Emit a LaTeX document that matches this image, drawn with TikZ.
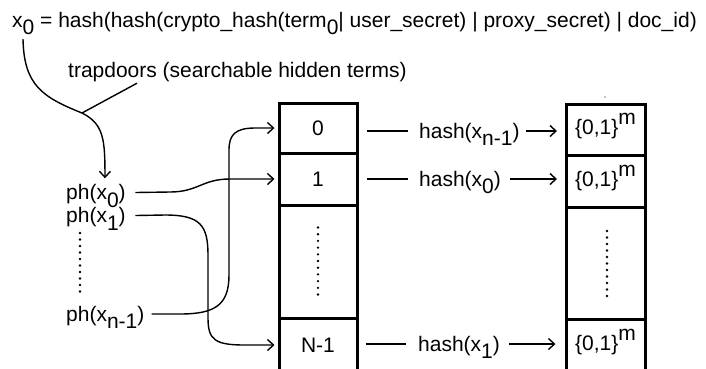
\documentclass[tikz,border=0pt]{standalone}
\usepackage{fontspec}
\setmainfont{Liberation Sans}
\usetikzlibrary{arrows.meta}
% full-size lowered subscripts and raised superscripts, as in the figure
\newcommand\dn[1]{\raisebox{-7.5pt}{#1}}
\newcommand\upm[1]{\raisebox{10pt}[0pt][0pt]{#1}}

\begin{document}
\begin{tikzpicture}[x=1pt,y=-1pt,
  every node/.style={font=\fontsize{21}{25}\selectfont, inner sep=0pt},
  txt/.style={anchor=base west, text height=15pt, text depth=1pt},
  cell/.style={draw, line width=3pt, minimum width=78pt},
  rcell/.style={draw, line width=3pt, minimum width=79pt},
  conn/.style={line width=1.4pt},
  arr/.style={conn, -{Straight Barb[length=6pt,width=11pt]}},
  dotmark/.style={fill=black}
]
\useasboundingbox (0,0) rectangle (706,368);
\clip (0,0) rectangle (706,368);

% heading formula and caption
\node[txt] (F) at (12,27) {x\dn{0} = hash(hash(crypto\_hash(term\dn{0}| user\_secret) | proxy\_secret) | doc\_id)};
\node[txt] (Tr) at (68,77) {trapdoors (searchable hidden terms)};

% trapdoor list
\node[txt] (P0) at (66,199.5) {ph(x\dn{0})};
\node[txt] (P1) at (66,222.5) {ph(x\dn{1})};
\node[txt] (PN) at (66,321) {ph(x\dn{n-1})};
\foreach \i in {0,...,9} \fill[dotmark] (80,233+6.5*\i) circle (1.3);

% index table
\node[cell, minimum height=50pt]  (L0) at (318,128)   {0};
\node[cell, minimum height=52pt]  (L1) at (318,179)   {1};
\node[cell, minimum height=113pt] (Ld) at (318,261.5) {};
\node[cell, minimum height=54pt]  (LN) at (318,345)   {N-1};
\foreach \i in {0,...,10} \fill[dotmark] ([yshift=34pt-6.7pt*\i]Ld.center) circle (1.3);

% value table
\node[rcell, minimum height=51pt]  (R0) at (605.5,129.5) {\{0,1\}\upm{m}};
\node[rcell, minimum height=52pt]  (R1) at (605.5,181)   {\{0,1\}\upm{m}};
\node[rcell, minimum height=112pt] (Rd) at (605.5,263)   {};
\node[rcell, minimum height=53pt]  (RN) at (605.5,345.5) {\{0,1\}\upm{m}};
\foreach \i in {0,...,10} \fill[dotmark] ([xshift=1.5pt,yshift=32pt-6.5pt*\i]Rd.center) circle (1.3);
\fill[black!45] (605,97) circle (0.8);

% hash labels between the tables
\node[txt] (H0) at (419,138) {hash(x\dn{n-1})};
\node[txt] (H1) at (419,186) {hash(x\dn{0})};
\node[txt] (HN) at (418,351) {hash(x\dn{1})};

\draw[conn, shorten <=8.5pt, shorten >=11pt] (L0.east |- H0.west) -- (H0.west);
\draw[conn, shorten <=8.5pt, shorten >=11pt] (L1.east |- H1.west) -- (H1.west);
\draw[conn, shorten <=7pt,   shorten >=12pt] (LN.east |- HN.west) -- (HN.west);
\draw[arr, shorten <=6pt, shorten >=7.5pt] (H0.east) -- (H0.east -| R0.west);
\draw[arr, shorten <=9pt, shorten >=7.5pt] (H1.east) -- (H1.east -| R1.west);
\draw[arr, shorten <=9pt, shorten >=9pt]   (HN.east) -- (HN.east -| RN.west);

% x0 derivation feeding the trapdoor list
\coordinate (j) at (82,113);
\draw[arr, shorten >=6pt] ([xshift=11pt,yshift=-11pt]F.south west)
  .. controls (24,85) and (42,97) .. (j)
  .. controls (104,124) and (105,140) .. ([xshift=9pt]P0.north);
\draw[conn] ([xshift=69pt,yshift=-5pt]Tr.south west) -- (j);

% trapdoors to table slots
\draw[arr, shorten >=3pt] ([xshift=9.5pt]P0.east) -- (170,192)
  .. controls (198,192) and (202,179) .. (230,179) -- (L1.west);
\draw[arr, shorten >=3pt] ([xshift=9.5pt]P1.east) -- (165,215)
  .. controls (200,215) and (208,225) .. (208,255) -- (208,318)
  .. controls (208,340) and (215,345) .. (245,345) -- (LN.west);
\draw[arr, shorten >=3pt] ([xshift=7pt]PN.east) -- (180,314)
  .. controls (215,314) and (229,305) .. (229,275) -- (229,150)
  .. controls (229,135) and (235,128) .. (255,128) -- (L0.west);
\end{tikzpicture}
\end{document}
